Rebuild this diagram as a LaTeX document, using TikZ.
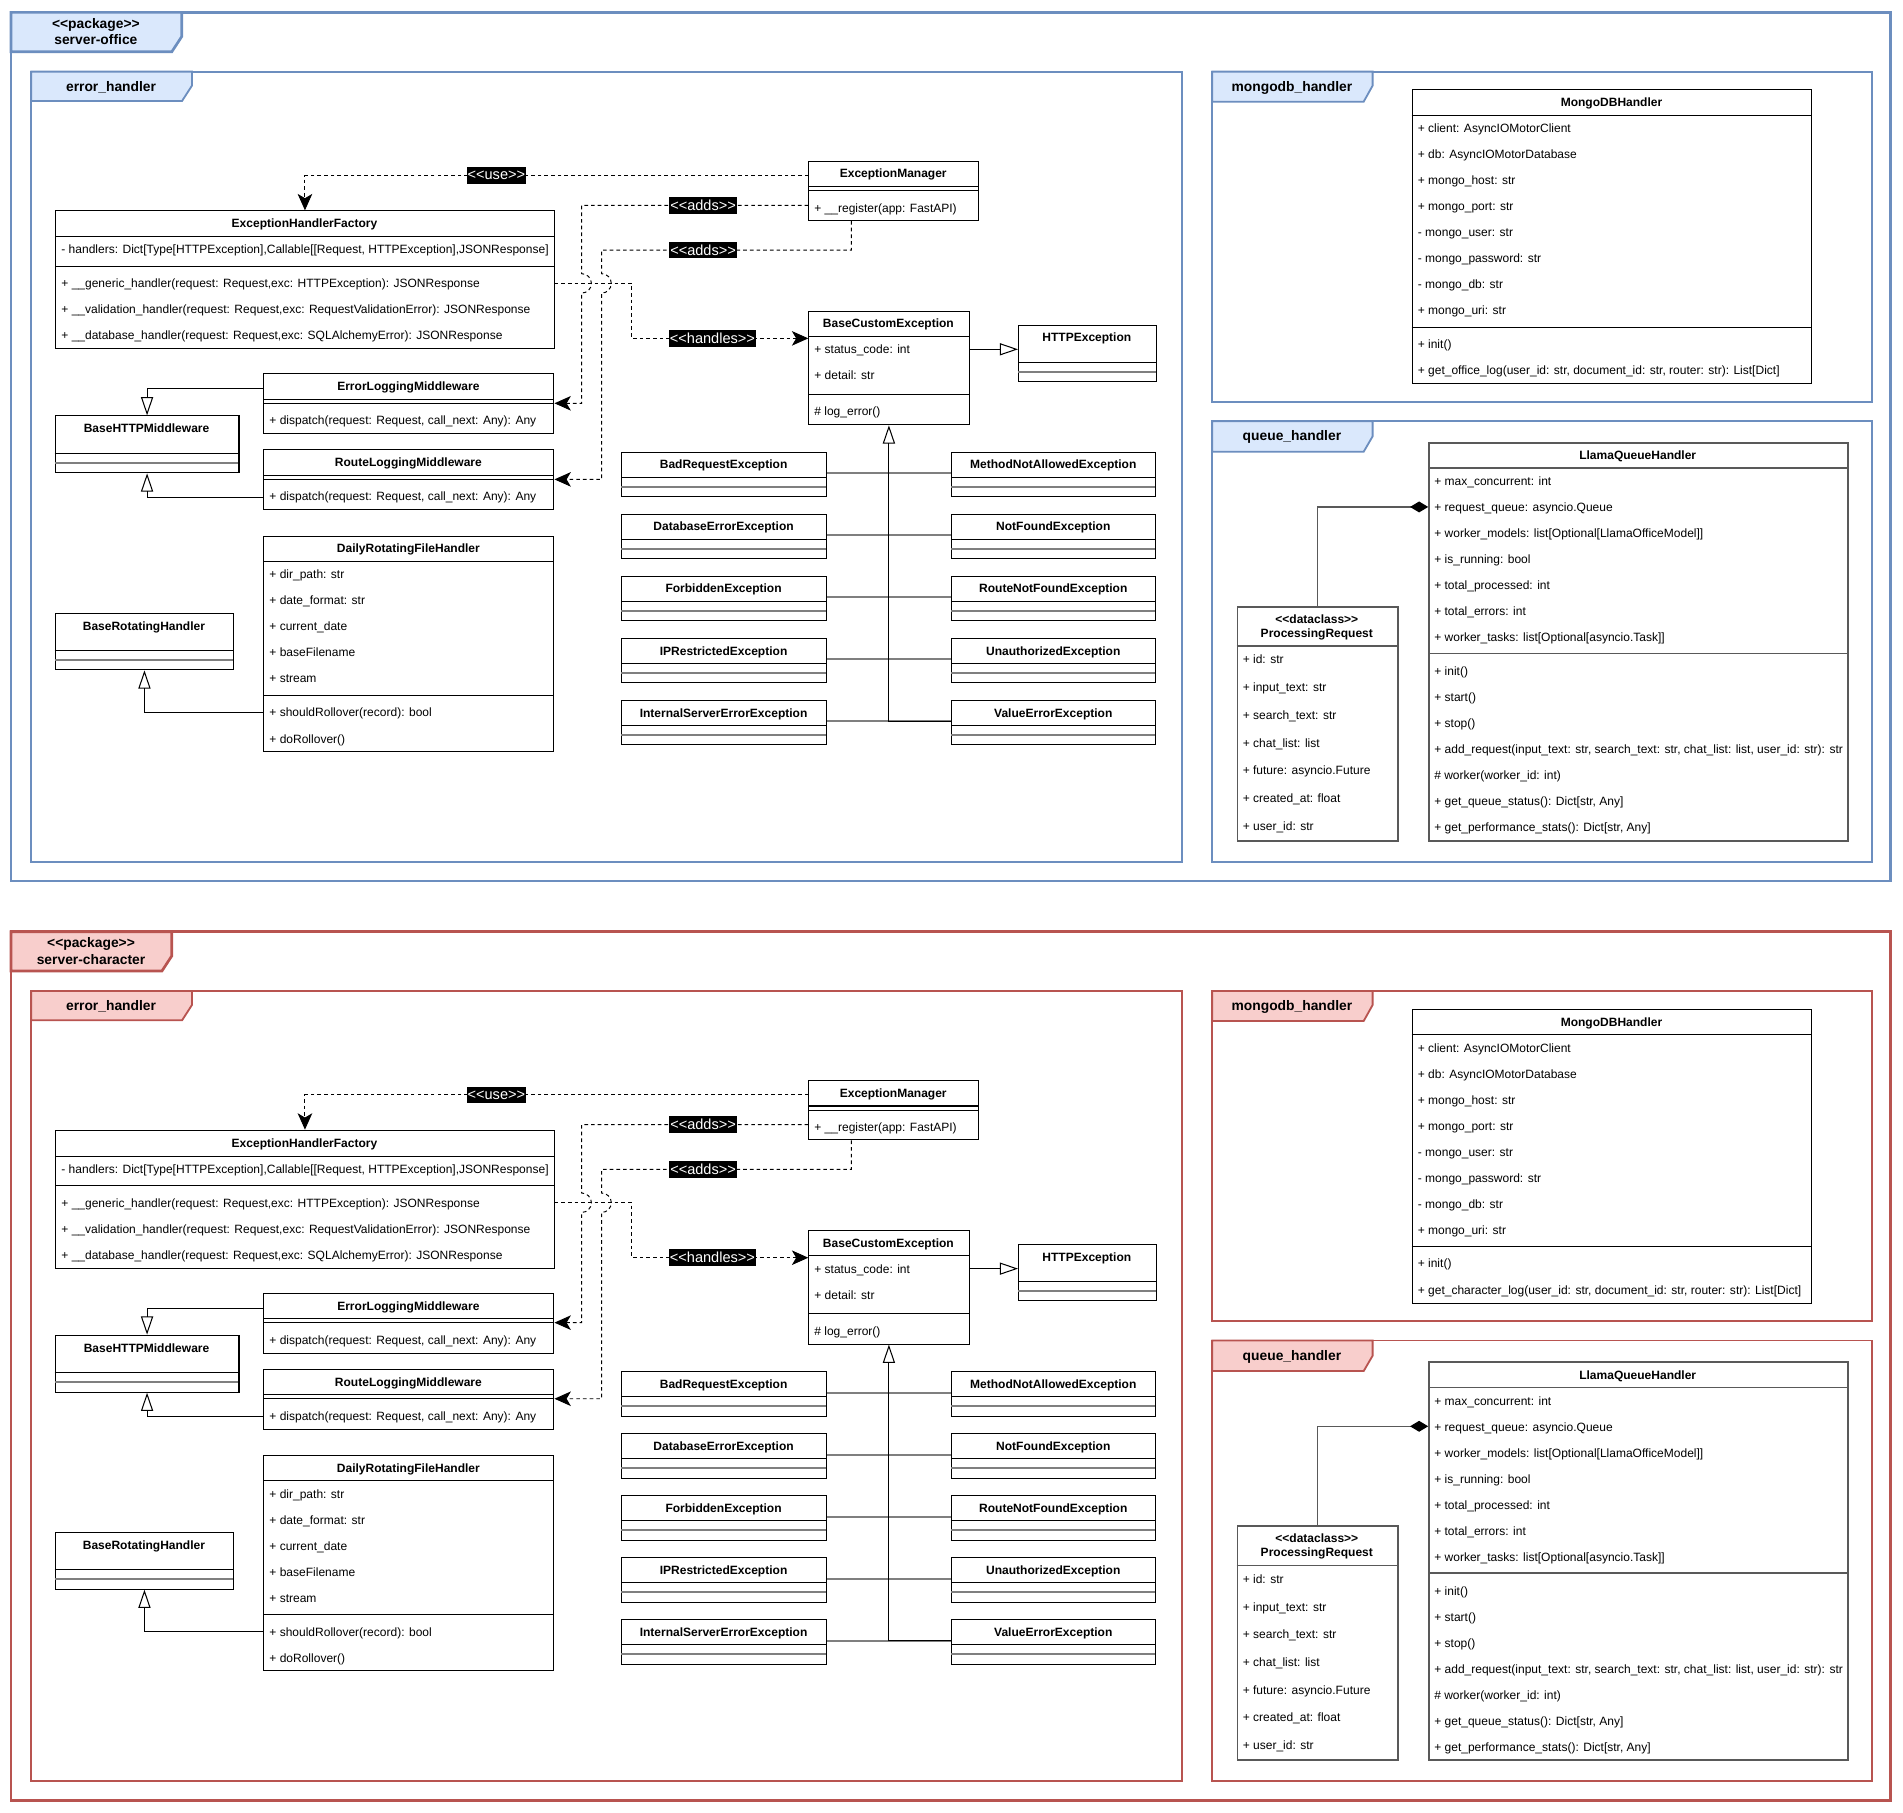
\documentclass[tikz,border=0pt]{standalone}
\usepackage{fontspec}
\setmainfont{Liberation Sans}
\usetikzlibrary{arrows.meta}

\definecolor{officeLine}{HTML}{6C8EBF}
\definecolor{officeFill}{HTML}{DAE8FC}
\definecolor{charLine}{HTML}{B85450}
\definecolor{charFill}{HTML}{F8CECC}
\definecolor{edgeGray}{HTML}{7F7F7F}
\definecolor{boxGray}{HTML}{595959}

% guillemet-like stereotype brackets kept as two separate characters
\newcommand\umlL{<\kern0pt<}
\newcommand\umlR{>\kern0pt>}
\newcommand\cfont{\fontsize{9.9}{11.5}\selectfont}

\tikzset{
  box/.style={draw=black, line width=0.85pt, fill=white, inner sep=0pt, anchor=north west},
  hdr/.style={font=\cfont\bfseries, inner sep=0pt, anchor=base},
  row/.style={font=\cfont, inner sep=0pt, anchor=base west},
  sepline/.style={draw=black, line width=0.85pt},
  graysep/.style={draw=boxGray, line width=1.3pt},
  emptysep/.style={draw=edgeGray, line width=1.6pt},
  tabtxt/.style={font=\fontsize{11.4}{13}\selectfont\bfseries, inner sep=0pt, anchor=base},
  lbl/.style={fill=black, text=white, font=\fontsize{12}{13}\selectfont, inner xsep=0.8pt, inner ysep=0pt, minimum height=13.7pt},
  dep/.style={draw=black, line width=0.8pt, dash pattern=on 3pt off 2.5pt, -{Stealth[length=13.5pt,width=12pt,inset=3.5pt]}},
  inh/.style={draw=black, line width=0.85pt, -{Triangle[open,length=15pt,width=10pt]}},
  subedge/.style={draw=edgeGray, line width=1.5pt},
  comp/.style={draw=boxGray, line width=1.3pt, -{Diamond[length=15pt,width=9pt,color=black,fill=black]}},
}

% class box: [options] name, left, top, right, bottom
\newcommand\ubox[6][]{\node[box,#1,minimum width={#5-#3},minimum height={#6-#4}] (#2) at (#3,#4) {};}
% compartment line: [style] left, right, y
\newcommand\usep[4][sepline]{\draw[#1] (#2,#4) -- (#3,#4);}

% one server package: prefix, stroke, fill, package name, log kind,
% package tab right edge, package tab text centre
\newcommand\serverhalf[7]{%
  % ---------- package frames
  \draw[draw=#2, line width=2.2pt] (9,10.2) rectangle (1557.8,726);
  \filldraw[draw=#2, fill=#3, line width=2.2pt] (9,10.2) -- (#6,10.2) -- (#6,30.2) -- ({#6-8.1},42.6) -- (9,42.6) -- cycle;
  \node[tabtxt] (#1pkg) at (#7,23.2) {\umlL package\umlR};
  \node[tabtxt] (#1pkgname) at (#7,37) {#4};
  \draw[draw=#2, line width=1.5pt] (25.7,59) rectangle (973.8,710);
  \filldraw[draw=#2, fill=#3, line width=1.5pt] (25.7,59) -- (158.2,59) -- (158.2,70.5) -- (150,83.2) -- (25.7,83.2) -- cycle;
  \node[tabtxt] (#1errtab) at (91.5,75) {error\_handler};
  \draw[draw=#2, line width=1.5pt] (998.8,59) rectangle (1542.5,331);
  \filldraw[draw=#2, fill=#3, line width=1.5pt] (998.8,59) -- (1131,59) -- (1131,70.5) -- (1123.6,83.8) -- (998.8,83.8) -- cycle;
  \node[tabtxt] (#1mongotab) at (1064.5,75) {mongodb\_handler};
  \draw[draw=#2, line width=1.5pt] (998.8,347) rectangle (1542.5,710);
  \filldraw[draw=#2, fill=#3, line width=1.5pt] (998.8,347) -- (1131,347) -- (1131,359.5) -- (1123.6,372.2) -- (998.8,372.2) -- cycle;
  \node[tabtxt] (#1queuetab) at (1064.5,363.3) {queue\_handler};
  % ---------- ExceptionManager
  \ubox{#1em}{666}{132.4}{806}{181.3}
  \node[hdr] (#1emH) at (736,146.6) {ExceptionManager};
  \usep{666}{806}{153.8}
  \usep{666}{806}{157.1}
  \node[row] (#1emM) at (670.8,174.9) {+ \_\_register(app: FastAPI)};
  % ---------- ExceptionHandlerFactory
  \ubox{#1ehf}{45.6}{173.3}{456.1}{287}
  \node[hdr] (#1ehfH) at (250.9,187.8) {ExceptionHandlerFactory};
  \usep{45.6}{456.1}{195}
  \node[row] (#1ehfA) at (50.4,209.2) {- handlers: Dict[Type[HTTPException],Callable[[Request, HTTPException],JSONResponse]};
  \usep{45.6}{456.1}{219.2}
  \node[row] (#1ehfM1) at (50.4,237.2) {+ \_\_generic\_handler(request: Request,exc: HTTPException): JSONResponse};
  \node[row] (#1ehfM2) at (50.4,258.7) {+ \_\_validation\_handler(request: Request,exc: RequestValidationError): JSONResponse};
  \node[row] (#1ehfM3) at (50.4,280.1) {+ \_\_database\_handler(request: Request,exc: SQLAlchemyError): JSONResponse};
  % ---------- middlewares
  \ubox{#1elm}{217}{307.6}{456}{357}
  \node[hdr] (#1elmH) at (336.5,322.1) {ErrorLoggingMiddleware};
  \usep{217}{456}{329}
  \usep{217}{456}{332.3}
  \node[row] (#1elmM) at (221.8,350.1) {+ dispatch(request: Request, call\_next: Any): Any};
  \ubox{#1rlm}{217}{370.2}{456}{419.7}
  \node[hdr] (#1rlmH) at (336.5,384.7) {RouteLoggingMiddleware};
  \usep{217}{456}{391.6}
  \usep{217}{456}{395}
  \node[row] (#1rlmM) at (221.8,412.7) {+ dispatch(request: Request, call\_next: Any): Any};
  \ubox{#1bhm}{45}{342.2}{196.5}{389.2}
  \node[hdr] (#1bhmH) at (120.75,356.7) {BaseHTTPMiddleware};
  \usep{45}{196.5}{373.5}
  \usep[emptysep]{45}{196.5}{381.5}
  % ---------- file handlers
  \ubox{#1drfh}{217}{441.4}{456}{618.8}
  \node[hdr] (#1drfhH) at (336.5,455.6) {DailyRotatingFileHandler};
  \usep{217}{456}{462.5}
  \foreach \txt [count=\k from 0] in {{+ dir\_path: str},{+ date\_format: str},{+ current\_date},{+ baseFilename},{+ stream}}
    {\node[row] (#1drfhA\k) at (221.8,{477+21.42*\k}) {\txt};}
  \usep{217}{456}{572.9}
  \node[row] (#1drfhM1) at (221.8,590.7) {+ shouldRollover(record): bool};
  \node[row] (#1drfhM2) at (221.8,612.2) {+ doRollover()};
  \ubox{#1brh}{45}{504.8}{192.2}{551.5}
  \node[hdr] (#1brhH) at (118.6,519.3) {BaseRotatingHandler};
  \usep{45}{192.2}{535.8}
  \usep[emptysep]{45}{192.2}{543.8}
  % ---------- exceptions
  \ubox{#1bce}{666}{256}{798}{349.6}
  \node[hdr] (#1bceH) at (732,270) {BaseCustomException};
  \usep{666}{798}{277}
  \node[row] (#1bceA1) at (670.8,291.5) {+ status\_code: int};
  \node[row] (#1bceA2) at (670.8,313) {+ detail: str};
  \usep{666}{798}{325}
  \node[row] (#1bceM) at (670.8,342.5) {\# log\_error()};
  \ubox{#1http}{838.8}{267.5}{952.3}{313.9}
  \node[hdr] (#1httpH) at (895.5,281.7) {HTTPException};
  \usep{838.8}{952.3}{298.5}
  \usep[emptysep]{838.8}{952.3}{306.2}
  \foreach \nm [count=\k from 0] in {BadRequestException,DatabaseErrorException,ForbiddenException,IPRestrictedException,InternalServerErrorException}
  {
    \pgfmathsetmacro\tp{372.2+51.1*\k}
    \ubox{#1lx\k}{512}{\tp}{680.4}{\tp+36.7}
    \node[hdr] (#1lxH\k) at (596.2,{\tp+14.2}) {\nm};
    \usep{512}{680.4}{\tp+21.1}
    \usep[emptysep]{512}{680.4}{\tp+28.8}
  }
  \foreach \nm [count=\k from 0] in {MethodNotAllowedException,NotFoundException,RouteNotFoundException,UnauthorizedException,ValueErrorException}
  {
    \pgfmathsetmacro\tp{372.2+51.1*\k}
    \ubox{#1rx\k}{783.8}{\tp}{951.9}{\tp+36.7}
    \node[hdr] (#1rxH\k) at (867.85,{\tp+14.2}) {\nm};
    \usep{783.8}{951.9}{\tp+21.1}
    \usep[emptysep]{783.8}{951.9}{\tp+28.8}
  }
  % ---------- MongoDBHandler
  \ubox{#1mdb}{1163.2}{73.6}{1492.4}{315.8}
  \node[hdr] (#1mdbH) at (1327.8,88.1) {MongoDBHandler};
  \usep{1163.2}{1492.4}{95}
  \foreach \txt [count=\k from 0] in {{+ client: AsyncIOMotorClient},{+ db: AsyncIOMotorDatabase},{+ mongo\_host: str},{+ mongo\_port: str},{- mongo\_user: str},{- mongo\_password: str},{- mongo\_db: str},{+ mongo\_uri: str}}
    {\node[row] (#1mdbA\k) at (1168,{109.5+21.42*\k}) {\txt};}
  \usep{1163.2}{1492.4}{269.7}
  \node[row] (#1mdbM1) at (1168,287.2) {+ init()};
  \node[row] (#1mdbM2) at (1168,308.9) {+ get\_#5\_log(user\_id: str, document\_id: str, router: str): List[Dict]};
  % ---------- queue classes
  \ubox[draw=boxGray,line width=1.3pt]{#1lqh}{1176.8}{364.2}{1521.9}{692.1}
  \node[hdr] (#1lqhH) at (1349.4,378.9) {LlamaQueueHandler};
  \usep[graysep]{1176.8}{1521.9}{385.6}
  \foreach \txt [count=\k from 0] in {{+ max\_concurrent: int},{+ request\_queue: asyncio.Queue},{+ worker\_models: list[Optional[LlamaOfficeModel]]},{+ is\_running: bool},{+ total\_processed: int},{+ total\_errors: int},{+ worker\_tasks: list[Optional[asyncio.Task]]}}
    {\node[row] (#1lqhA\k) at (1181.6,{400.4+21.42*\k}) {\txt};}
  \usep[graysep]{1176.8}{1521.9}{538.6}
  \foreach \txt [count=\k from 0] in {{+ init()},{+ start()},{+ stop()},{+ add\_request(input\_text: str, search\_text: str, chat\_list: list, user\_id: str): str},{\# worker(worker\_id: int)},{+ get\_queue\_status(): Dict[str, Any]},{+ get\_performance\_stats(): Dict[str, Any]}}
    {\node[row] (#1lqhM\k) at (1181.6,{556.9+21.42*\k}) {\txt};}
  \ubox[draw=boxGray,line width=1.3pt]{#1pr}{1019}{499.3}{1151}{692.1}
  \node[hdr] (#1prS) at (1085,513.8) {\umlL dataclass\umlR};
  \node[hdr] (#1prH) at (1085,525.3) {ProcessingRequest};
  \usep[graysep]{1019}{1151}{532.3}
  \foreach \txt [count=\k from 0] in {{+ id: str},{+ input\_text: str},{+ search\_text: str},{+ chat\_list: list},{+ future: asyncio.Future},{+ created\_at: float},{+ user\_id: str}}
    {\node[row] (#1prA\k) at (1023.8,{547.1+22.8*\k}) {\txt};}
  % ---------- dependencies
  \draw[dep] (#1em.west |- 0,144.7) -| (#1ehf.north);
  \draw[dep] (#1em.west |- 0,169.2) -- (479.3,169.2) -- (479.3,225.5)
     arc[start angle=90,end angle=-90,radius=8pt] -- (479.3,332.3) -- (#1elm.east |- 0,332.3);
  \draw[dep] (#1em.south -| 701.5,0) -- (701.5,206) -- (495.7,206) -- (495.7,225.5)
     arc[start angle=90,end angle=-90,radius=8pt] -- (495.7,395) -- (#1rlm.east |- 0,395);
  \draw[dep] (#1ehf.east |- 0,233.5) -- (520.5,233.5) -- (520.5,278.8) -- (#1bce.west |- 0,278.8);
  \node[lbl] (#1useL) at (409,144.7) {\umlL use\umlR};
  \node[lbl] (#1addsA) at (579.3,169.2) {\umlL adds\umlR};
  \node[lbl] (#1addsB) at (579.3,206) {\umlL adds\umlR};
  \node[lbl] (#1handL) at (587,278.8) {\umlL handles\umlR};
  % ---------- generalizations
  \draw[inh] (#1elm.west |- 0,320.3) -| (#1bhm.north);
  \draw[inh] (#1rlm.west |- 0,409.8) -| (#1bhm.south);
  \draw[inh] (#1drfh.west |- 0,586.9) -| (#1brh.south);
  \draw[inh] (#1bce.east |- 0,287.8) -- (#1http.west |- 0,287.8);
  \foreach \k in {0,...,4}
  {
    \pgfmathsetmacro\cy{372.2+51.1*\k+17.8}
    \draw[subedge] (#1lx\k.east |- 0,\cy) -- (#1rx\k.west |- 0,\cy);
  }
  \draw[inh] (#1rx4.west |- 0,594.4) -| (#1bce.south);
  % ---------- composition
  \draw[comp] (#1pr.north) |- (#1lqh.west |- 0,417.7);
}

\begin{document}
\begin{tikzpicture}[x=1pt,y=-1pt]
  \useasboundingbox (0,0) rectangle (1568,1493.8);
  \fill[white] (0,0) rectangle (1568,1493.8);
  \begin{scope}
    \serverhalf{o}{officeLine}{officeFill}{server-office}{office}{149.7}{79}
  \end{scope}
  \begin{scope}[shift={(0,757.5)}]
    \serverhalf{c}{charLine}{charFill}{server-character}{character}{141.5}{75}
  \end{scope}
\end{tikzpicture}
\end{document}
